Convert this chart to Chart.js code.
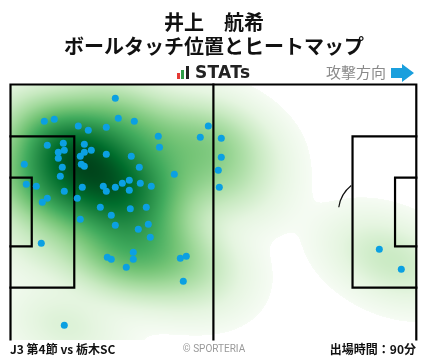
<!DOCTYPE html>
<html><head><meta charset="utf-8">
<script src="https://cdn.jsdelivr.net/npm/chart.js@4/dist/chart.umd.min.js"></script>
<style>
html,body{margin:0;padding:0;background:#fff;}
#wrap{position:relative;width:428px;height:359px;overflow:hidden;font-family:"Noto Sans CJK JP","Noto Sans",sans-serif;}
#c{position:absolute;left:0;top:0;}
.t{position:absolute;white-space:nowrap;line-height:1;}
</style></head><body>
<div id="wrap">
<canvas id="c" width="428" height="359"></canvas>
<div class="t" id="t1" style="left:0;width:428px;text-align:center;top:12px;font-size:20px;font-weight:700;color:#111;">井上　航希</div>
<div class="t" id="t2" style="left:0;width:428px;text-align:center;top:36px;font-size:20px;font-weight:700;color:#111;">ボールタッチ位置とヒートマップ</div>
<div class="t" style="left:176px;top:65px;width:14px;height:15px;">
  <span style="position:absolute;left:1px;top:8px;width:3px;height:6px;background:#e53935"></span>
  <span style="position:absolute;left:5px;top:5px;width:3px;height:9px;background:#2e9e48"></span>
  <span style="position:absolute;left:10px;top:1px;width:3px;height:13px;background:#222"></span>
</div>
<div class="t" style="left:195px;top:64px;font-family:'DejaVu Sans','Liberation Sans',sans-serif;font-size:17px;font-weight:700;color:#222;letter-spacing:0.3px;">STATs</div>
<div class="t" style="left:326px;top:64px;font-size:15px;color:#8a8a8a;">攻撃方向</div>
<svg style="position:absolute;left:390px;top:63px" width="26" height="20" viewBox="0 0 26 20">
  <polygon points="1,5 12,5 12,1 24,10 12,19 12,15 1,15" fill="#1a9fdd"/>
</svg>
<div class="t" style="left:10px;top:343px;font-size:12px;font-weight:700;color:#111;">J3 第4節 vs 栃木SC</div>
<div class="t" style="left:0;width:428px;text-align:center;top:344px;font-family:'Roboto','Noto Sans',sans-serif;font-size:10px;color:#999;">© SPORTERIA</div>
<div class="t" style="right:12px;top:343px;font-size:12px;font-weight:700;color:#111;">出場時間：90分</div>
</div>
<script>
// Ball touch positions on a 105 x 68 pitch (x: own goal -> attacking goal, y: from top touchline)
const touchX = [27.12,8.75,11.33,27.89,32.03,17.54,20.13,24.79,51.18,38.24,49.11,38.55,9.52,13.66,12.37,13.92,12.37,19.10,19.10,20.91,18.06,24.79,31.26,3.57,13.40,18.32,19.10,33.33,12.89,42.38,4.09,6.68,18.58,24.01,27.12,28.93,30.74,30.74,33.59,36.43,24.79,13.92,9.52,8.23,17.28,23.24,31.00,35.14,26.08,18.06,27.12,35.66,33.07,36.17,7.97,31.77,25.05,26.08,31.77,29.96,43.94,45.49,44.71,13.92,54.54,54.54,53.77,54.03,95.43,101.12];
const touchY = [3.68,9.81,9.28,9.01,9.81,11.07,12.21,11.41,11.07,13.81,14.08,16.75,16.21,15.68,18.08,17.55,19.68,15.95,18.08,17.55,19.15,18.61,19.15,21.28,22.08,21.28,21.81,22.08,24.48,23.95,26.61,27.15,27.41,27.15,27.41,26.35,25.55,28.21,26.35,27.15,28.48,28.48,30.35,31.41,30.35,32.75,33.12,32.75,34.88,35.95,37.55,37.28,38.61,40.75,42.35,44.75,46.08,46.61,46.61,48.75,46.35,45.81,52.48,64.21,14.35,19.41,22.88,27.41,43.95,49.28];
const pitchLength = 105, pitchWidth = 68;
const GREENS = ['#f7fcf5','#e5f5e0','#c7e9c0','#a1d99b','#74c476','#41ab5d','#238b45','#006d2c','#00441b'];
const HEAT_THRESH = 0.005;  // share of peak density below which nothing is filled
const HEAT_GAMMA = 0.62;
const BW_ADJUST = 1.0;

function hex(c){return [parseInt(c.slice(1,3),16),parseInt(c.slice(3,5),16),parseInt(c.slice(5,7),16)];}
const GR = GREENS.map(hex);
function greens(t){
  t = Math.max(0, Math.min(1, t));
  const f = t*(GR.length-1); const i = Math.min(GR.length-2, Math.floor(f)); const u = f-i;
  return [0,1,2].map(k => GR[i][k]+(GR[i+1][k]-GR[i][k])*u);
}

let heatCache = null;
function buildHeat(chart){
  const a = chart.chartArea, xs = chart.scales.x, ys = chart.scales.y;
  const W = Math.round(a.right-a.left), H = Math.round(a.bottom-a.top);
  const n = touchX.length;
  const mx = touchX.reduce((s,v)=>s+v,0)/n, my = touchY.reduce((s,v)=>s+v,0)/n;
  let sxx=0, syy=0, sxy=0;
  for(let i=0;i<n;i++){const dx=touchX[i]-mx, dy=touchY[i]-my; sxx+=dx*dx; syy+=dy*dy; sxy+=dx*dy;}
  sxx/=(n-1); syy/=(n-1); sxy/=(n-1);
  const f2 = Math.pow(n, -1/3) * BW_ADJUST * BW_ADJUST;
  const cxx = sxx*f2, cyy = syy*f2, cxy = sxy*f2;
  const det = cxx*cyy - cxy*cxy;
  const ixx = cyy/det, iyy = cxx/det, ixy = -cxy/det;
  const colV = new Float64Array(W), rowV = new Float64Array(H);
  for(let i=0;i<W;i++) colV[i] = xs.getValueForPixel(a.left+i+0.5);
  for(let j=0;j<H;j++) rowV[j] = ys.getValueForPixel(a.top+j+0.5);
  const dens = new Float64Array(W*H); let max = 0;
  for(let j=0;j<H;j++){
    for(let i=0;i<W;i++){
      let s=0;
      for(let k=0;k<n;k++){
        const dx = colV[i]-touchX[k], dy = rowV[j]-touchY[k];
        s += Math.exp(-0.5*(ixx*dx*dx + 2*ixy*dx*dy + iyy*dy*dy));
      }
      dens[j*W+i]=s; if(s>max) max=s;
    }
  }
  const cv = document.createElement('canvas'); cv.width=W; cv.height=H;
  const cx = cv.getContext('2d'); const img = cx.createImageData(W,H);
  for(let p=0;p<W*H;p++){
    const t = dens[p]/max;
    if(t < HEAT_THRESH){ img.data[p*4+3]=0; continue; }
    const c = greens(Math.pow((t-HEAT_THRESH)/(1-HEAT_THRESH), HEAT_GAMMA));
    img.data[p*4]=c[0]; img.data[p*4+1]=c[1]; img.data[p*4+2]=c[2]; img.data[p*4+3]=255;
  }
  cx.putImageData(img,0,0);
  return cv;
}

const pitchPlugin = {
  id:'pitch',
  beforeDatasetsDraw(chart){
    const {ctx, chartArea:a, scales:{x, y}} = chart;
    if(!heatCache) heatCache = buildHeat(chart);
    ctx.save();
    ctx.drawImage(heatCache, Math.round(a.left), Math.round(a.top));
    const X = v => x.getPixelForValue(v), Y = v => y.getPixelForValue(v);
    ctx.strokeStyle='#111'; ctx.lineWidth=1.2;
    ctx.beginPath();
    ctx.ellipse(X(pitchLength-11), Y(pitchWidth/2), X(9.15)-X(0), Y(9.15)-Y(0), 0, Math.PI+0.14, Math.PI+0.88);
    ctx.stroke();
    ctx.strokeStyle='#000'; ctx.lineWidth=2.2; ctx.lineCap='square';
    const line = (pts)=>{ctx.beginPath(); pts.forEach((p,i)=> i?ctx.lineTo(X(p[0]),Y(p[1])):ctx.moveTo(X(p[0]),Y(p[1]))); ctx.stroke();};
    line([[0,pitchWidth],[0,0],[pitchLength,0],[pitchLength,pitchWidth]]);
    line([[pitchLength/2,0],[pitchLength/2,pitchWidth]]);
    const pa = (pitchWidth-40.32)/2, ga = (pitchWidth-18.32)/2;
    line([[0,pa],[16.5,pa],[16.5,pitchWidth-pa],[0,pitchWidth-pa]]);
    line([[0,ga],[5.5,ga],[5.5,pitchWidth-ga],[0,pitchWidth-ga]]);
    line([[pitchLength,pa],[pitchLength-16.5,pa],[pitchLength-16.5,pitchWidth-pa],[pitchLength,pitchWidth-pa]]);
    line([[pitchLength,ga],[pitchLength-5.5,ga],[pitchLength-5.5,pitchWidth-ga],[pitchLength,pitchWidth-ga]]);
    ctx.restore();
  }
};

new Chart(document.getElementById('c'), {
  type:'scatter',
  data:{datasets:[{
    data: touchX.map((v,i)=>({x:v, y:touchY[i]})),
    pointRadius:3.5, pointHoverRadius:3.5, borderWidth:0,
    backgroundColor:'#0ba0e2', pointBorderColor:'#0ba0e2'
  }]},
  options:{
    responsive:false, animation:false, events:[],
    layout:{padding:{left:10.5, right:11.7, top:84.5, bottom:19.5}},
    scales:{
      x:{type:'linear', min:0, max:pitchLength, display:false},
      y:{type:'linear', min:0, max:pitchWidth, reverse:true, display:false}
    },
    plugins:{legend:{display:false}, tooltip:{enabled:false}, title:{display:false}}
  },
  plugins:[pitchPlugin]
});
</script>
</body></html>
